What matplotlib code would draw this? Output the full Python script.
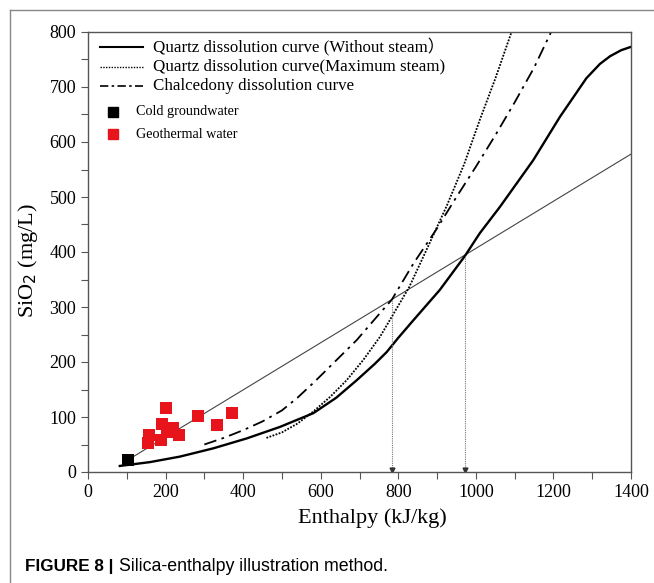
import matplotlib
matplotlib.use("Agg")
import matplotlib.pyplot as plt
from matplotlib.lines import Line2D

# --- data ---
cold_h = [103]
cold_si = [22]

geo_h = [200, 157, 155, 192, 187, 220, 203, 235, 283, 332, 370, 210]
geo_si = [116, 68, 52, 87, 58, 80, 73, 67, 101, 85, 108, 78]

# quartz, no steam loss (solid)
qz_h = [82, 160, 237, 323, 409, 495, 581, 640, 693, 740, 770, 800, 839, 907, 972,
        1010, 1062, 1148, 1217, 1285, 1320, 1346, 1375, 1400]
qz_si = [11, 18, 28, 43, 61, 82, 107, 135, 167, 197, 218, 244, 276, 331, 393,
         434, 482, 567, 646, 716, 742, 756, 767, 773]

# quartz, maximum steam loss (dotted)
qs_h = [460, 500, 540, 581, 625, 667, 710, 753, 783, 828, 882, 925, 970, 1010,
        1050, 1092]
qs_si = [62, 72, 88, 110, 137, 167, 204, 246, 282, 336, 418, 484, 560, 640,
         715, 800]

# chalcedony (dash-dot)
ch_h = [300, 350, 400, 450, 500, 540, 581, 607, 650, 693, 753, 783, 839, 899,
        950, 1000, 1050, 1100, 1150, 1194]
ch_si = [50, 62, 76, 92, 112, 135, 162, 180, 210, 240, 289, 313, 379, 442,
         500, 555, 612, 672, 735, 800]

# mixing line from cold groundwater
mix_h = [103, 1400]
mix_si = [22, 578]

# intersection enthalpies (dotted drop lines)
drop_h = [783, 972]
drop_si = [313, 393]

serif = "Liberation Serif"

fig = plt.figure(figsize=(6.54, 5.83), dpi=100)
ax = fig.add_axes([88 / 654, 1 - 472 / 583, 543 / 654, 440 / 583])

ax.plot(mix_h, mix_si, color="#444444", lw=0.8)
ax.plot(qz_h, qz_si, color="black", lw=1.7)
ax.plot(qs_h, qs_si, color="black", lw=1.3, linestyle=(0, (1, 0.8)))
ax.plot(ch_h, ch_si, color="black", lw=1.3, linestyle=(0, (7, 3, 1.5, 3)))

for h, s in zip(drop_h, drop_si):
    ax.plot([h, h], [s, 0], color="#777777", lw=0.8, linestyle=(0, (1, 1)))
    ax.plot([h], [4], marker="v", color="#333333", markersize=3.5)

ax.scatter(geo_h, geo_si, marker="s", s=66, color="#e8141b", zorder=3, lw=0)
ax.scatter(cold_h, cold_si, marker="s", s=80, color="black", zorder=4, lw=0)

ax.set_xlim(0, 1400)
ax.set_ylim(0, 800)
ax.set_xticks(range(0, 1401, 200))
ax.set_yticks(range(0, 801, 100))
ax.set_xticks(range(100, 1400, 200), minor=True)
ax.set_yticks(range(50, 800, 100), minor=True)
ax.tick_params(which="both", direction="out", length=5, width=0.8,
               color="#555555", top=False, right=False)
for lab in ax.get_xticklabels() + ax.get_yticklabels():
    lab.set_fontfamily(serif)
    lab.set_fontsize(13)
for sp in ax.spines.values():
    sp.set_color("#555555")
    sp.set_linewidth(1.0)

ax.set_xlabel("Enthalpy (kJ/kg)", fontfamily=serif, fontsize=16)
ax.xaxis.set_label_coords((372 - 88) / 543, -0.082)
ax.set_ylabel("SiO$_2$ (mg/L)", fontfamily=serif, fontsize=16)
ax.yaxis.set_label_coords(-0.088, 0.48)

# legend, drawn by hand
leg_rows = [
    ("Quartz dissolution curve (Without steam\uff09", dict(color="black", lw=1.5)),
    ("Quartz dissolution curve(Maximum steam)", dict(color="black", lw=1.0, linestyle=(0, (1, 1)))),
    ("Chalcedony dissolution curve", dict(color="black", lw=1.2, linestyle=(0, (5, 2, 1.5, 2)))),
]
for i, (txt, style) in enumerate(leg_rows):
    y = (472 - (47 + 19.5 * i)) / 440
    ax.plot([0.022, 0.101], [y, y], transform=ax.transAxes, clip_on=False, **style)
    ax.text(0.120, y, txt, transform=ax.transAxes, va="center", ha="left",
            fontfamily=[serif, "Noto Sans CJK SC"], fontsize=12.2)

for txt, col, py in [("Cold groundwater", "black", 112), ("Geothermal water", "#e8141b", 134)]:
    y = (472 - py) / 440
    ax.plot([0.046], [y], marker="s", markersize=7.5, color=col, lw=0,
            transform=ax.transAxes, clip_on=False)
    ax.text(0.088, y, txt, transform=ax.transAxes, va="center", ha="left",
            fontfamily=serif, fontsize=10.2)

# page frame
fig.add_artist(Line2D([9.5 / 654, 9.5 / 654], [0, 1 - 10 / 583],
                      transform=fig.transFigure, color="#888888", lw=1.0))
fig.add_artist(Line2D([9.5 / 654, 1], [1 - 10 / 583, 1 - 10 / 583],
                      transform=fig.transFigure, color="#888888", lw=1.0))

# caption
fig.text(25 / 654, 1 - 571 / 583, "FIGURE 8 |", fontfamily="Liberation Sans",
         fontweight="bold", fontsize=12.3, va="baseline", ha="left")
fig.text(119 / 654, 1 - 571 / 583, "Silica-enthalpy illustration method.",
         fontfamily="Liberation Sans", fontsize=12.8, va="baseline", ha="left")

fig.savefig("out.png", dpi=100)
